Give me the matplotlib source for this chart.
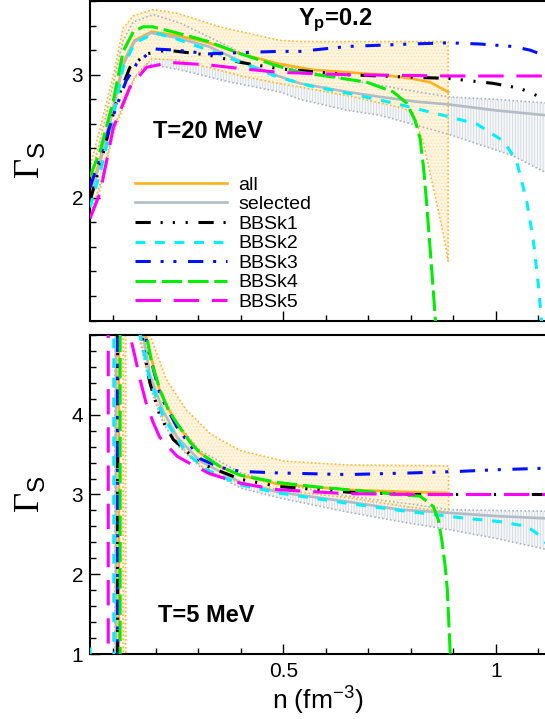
import matplotlib
matplotlib.use('Agg')
import matplotlib.pyplot as plt
import numpy as np
from matplotlib.ticker import MultipleLocator

plt.rcParams['font.family'] = 'Liberation Sans'
plt.rcParams['mathtext.fontset'] = 'custom'
plt.rcParams['mathtext.rm'] = 'Liberation Serif'
plt.rcParams['mathtext.sf'] = 'Liberation Sans'
plt.rcParams['mathtext.bf'] = 'Liberation Sans:bold'
plt.rcParams['hatch.linewidth'] = 0.6

# ---------------- T = 20 MeV ----------------
n_all20 = [0.045, 0.07, 0.10, 0.123, 0.15, 0.19, 0.25, 0.324, 0.40, 0.488, 0.57, 0.651, 0.728, 0.80, 0.845, 0.888]
g_all20 = [2.02, 2.33, 2.74, 3.10, 3.28, 3.35, 3.32, 3.26, 3.17, 3.09, 3.04, 3.02, 3.00, 2.97, 2.94, 2.86]

n_sel20 = [0.045, 0.07, 0.10, 0.123, 0.15, 0.189, 0.25, 0.324, 0.40, 0.488, 0.539, 0.651, 0.728, 0.815, 0.885, 1.0, 1.12]
g_sel20 = [2.00, 2.30, 2.72, 3.08, 3.27, 3.34, 3.30, 3.23, 3.11, 2.99, 2.93, 2.86, 2.82, 2.78, 2.76, 2.71, 2.67]

n_k1_20 = [0.045, 0.07, 0.108, 0.139, 0.178, 0.226, 0.324, 0.40, 0.488, 0.651, 0.80, 0.889, 0.994, 1.057, 1.104, 1.12]
g_k1_20 = [1.97, 2.28, 2.79, 3.06, 3.17, 3.20, 3.16, 3.10, 3.05, 3.00, 2.98, 2.97, 2.93, 2.89, 2.82, 2.79]

n_k2_20 = [0.045, 0.07, 0.10, 0.123, 0.15, 0.20, 0.25, 0.324, 0.40, 0.488, 0.563, 0.651, 0.759, 0.876, 0.955,
           1.018, 1.049, 1.073, 1.089, 1.10, 1.108, 1.115]
g_k2_20 = [1.92, 2.22, 2.66, 3.06, 3.26, 3.34, 3.29, 3.20, 3.10, 2.98, 2.91, 2.85, 2.77, 2.67, 2.60,
           2.46, 2.30, 1.97, 1.64, 1.30, 0.99, 0.60]

n_k3_20 = [0.045, 0.07, 0.104, 0.13, 0.155, 0.194, 0.25, 0.324, 0.40, 0.488, 0.539, 0.651, 0.80, 0.889, 0.963,
           1.041, 1.081, 1.112, 1.12]
g_k3_20 = [2.08, 2.35, 2.71, 2.95, 3.09, 3.21, 3.20, 3.17, 3.18, 3.19, 3.19, 3.23, 3.25, 3.26, 3.25,
           3.23, 3.20, 3.16, 3.14]

n_k4_20 = [0.045, 0.069, 0.10, 0.123, 0.147, 0.17, 0.193, 0.25, 0.324, 0.40, 0.488, 0.539, 0.60, 0.696, 0.759,
           0.79, 0.81, 0.822, 0.83, 0.837, 0.843, 0.849, 0.855, 0.86]
g_k4_20 = [2.17, 2.38, 2.79, 3.19, 3.35, 3.39, 3.39, 3.34, 3.27, 3.17, 3.07, 3.02, 2.99, 2.94, 2.86,
           2.77, 2.63, 2.48, 2.25, 1.97, 1.70, 1.43, 1.15, 0.90]

n_k5_20 = [0.045, 0.069, 0.10, 0.139, 0.178, 0.233, 0.324, 0.40, 0.488, 0.651, 0.889, 1.12]
g_k5_20 = [1.83, 2.04, 2.57, 2.90, 3.06, 3.10, 3.08, 3.05, 3.02, 3.00, 2.99, 2.99]

# bands: (n, Gamma) of lower and upper edges
n_allhi20 = [0.045, 0.07, 0.10, 0.123, 0.147, 0.194, 0.25, 0.296, 0.35, 0.414, 0.492, 0.539, 0.651, 0.80, 0.888]
g_allhi20 = [2.25, 2.58, 3.00, 3.38, 3.48, 3.53, 3.50, 3.45, 3.39, 3.34, 3.28, 3.27, 3.27, 3.27, 3.27]
n_alllo20 = [0.045, 0.07, 0.10, 0.15, 0.19, 0.25, 0.324, 0.40, 0.488, 0.539, 0.651, 0.728, 0.78, 0.806, 0.83,
             0.853, 0.877, 0.888]
g_alllo20 = [1.80, 2.08, 2.52, 2.97, 3.13, 3.12, 3.06, 2.99, 2.93, 2.90, 2.83, 2.77, 2.73, 2.69, 2.44,
             2.08, 1.70, 1.48]

n_selhi20 = [0.045, 0.07, 0.10, 0.123, 0.147, 0.194, 0.257, 0.30, 0.40, 0.488, 0.651, 0.80, 0.889, 1.0, 1.12]
g_selhi20 = [2.15, 2.48, 2.93, 3.28, 3.43, 3.49, 3.42, 3.35, 3.18, 3.08, 2.96, 2.87, 2.82, 2.80, 2.77]
n_sello20 = [0.045, 0.07, 0.10, 0.15, 0.178, 0.257, 0.375, 0.492, 0.539, 0.651, 0.728, 0.885, 1.041, 1.12]
g_sello20 = [1.85, 2.12, 2.56, 2.98, 3.09, 3.04, 2.94, 2.86, 2.80, 2.71, 2.67, 2.52, 2.34, 2.20]

# ---------------- T = 5 MeV ----------------
n_all5 = [0.1125, 0.1135, 0.14, 0.176, 0.21, 0.249, 0.304, 0.351, 0.40, 0.488, 0.651, 0.80, 0.889]
g_all5 = [-80, 80, 9.0, 5.0, 4.28, 3.88, 3.52, 3.35, 3.24, 3.13, 3.06, 3.03, 3.02]

n_sel5 = [0.1055, 0.1065, 0.13, 0.17, 0.186, 0.217, 0.25, 0.304, 0.40, 0.488, 0.651, 0.775, 0.889, 1.0, 1.12]
g_sel5 = [-80, 80, 9.0, 5.0, 4.50, 4.05, 3.72, 3.42, 3.15, 3.03, 2.91, 2.81, 2.77, 2.73, 2.70]

n_k1_5 = [0.1095, 0.1105, 0.135, 0.17, 0.186, 0.21, 0.241, 0.304, 0.40, 0.488, 0.651, 0.80, 0.889, 1.12]
g_k1_5 = [-80, 80, 7.5, 4.86, 4.40, 3.98, 3.69, 3.39, 3.19, 3.10, 3.03, 3.00, 3.00, 3.00]

n_k2_5 = [0.045, 0.05, 0.1005, 0.1015, 0.13, 0.163, 0.186, 0.217, 0.272, 0.32, 0.40, 0.488, 0.651, 0.775,
          0.932, 1.01, 1.073, 1.10, 1.12]
g_k2_5 = [1.08, 0.5, -80, 80, 8.0, 5.0, 4.44, 3.98, 3.52, 3.31, 3.12, 3.02, 2.89, 2.80,
          2.70, 2.66, 2.60, 2.50, 2.38]

n_k3_5 = [0.1095, 0.1105, 0.14, 0.178, 0.21, 0.249, 0.304, 0.351, 0.40, 0.488, 0.651, 0.80, 0.916, 1.0, 1.12]
g_k3_5 = [-80, 80, 8.0, 4.90, 4.25, 3.85, 3.45, 3.34, 3.29, 3.27, 3.25, 3.27, 3.29, 3.31, 3.33]

n_k4_5 = [0.1155, 0.1165, 0.145, 0.178, 0.19, 0.21, 0.23, 0.249, 0.28, 0.304, 0.351, 0.40, 0.488, 0.57,
          0.651, 0.733, 0.79, 0.822, 0.853, 0.865, 0.873, 0.881, 0.886, 0.893, 0.90]
g_k4_5 = [-80, 80, 8.0, 5.0, 4.65, 4.31, 4.05, 3.90, 3.66, 3.52, 3.35, 3.24, 3.15, 3.10,
          3.06, 3.02, 2.99, 2.98, 2.85, 2.68, 2.43, 2.10, 1.81, 1.00, 0.20]

n_k5_5 = [0.0875, 0.0885, 0.12, 0.139, 0.15, 0.163, 0.177, 0.194, 0.209, 0.225, 0.25, 0.273, 0.327, 0.40,
          0.488, 0.651, 0.815, 1.12]
g_k5_5 = [-80, 80, 8.0, 5.0, 4.75, 4.44, 4.15, 3.90, 3.72, 3.62, 3.48, 3.41, 3.26, 3.14,
          3.06, 3.01, 3.00, 3.00]

n_allhi5 = [0.1285, 0.1295, 0.15, 0.186, 0.225, 0.272, 0.327, 0.351, 0.40, 0.50, 0.651, 0.889]
g_allhi5 = [-80, 80, 9.0, 5.0, 4.44, 4.06, 3.77, 3.69, 3.55, 3.42, 3.37, 3.36]
n_alllo5 = [0.1225, 0.1235, 0.145, 0.163, 0.186, 0.217, 0.272, 0.32, 0.40, 0.488, 0.651, 0.80, 0.889]
g_alllo5 = [-80, 80, 8.0, 5.0, 4.40, 3.96, 3.52, 3.30, 3.14, 3.06, 2.96, 2.84, 2.78]

n_selhi5 = [0.1075, 0.1085, 0.135, 0.172, 0.21, 0.249, 0.304, 0.40, 0.488, 0.651, 0.80, 0.889, 1.0, 1.12]
g_selhi5 = [-80, 80, 8.0, 5.0, 4.30, 3.90, 3.55, 3.27, 3.14, 2.98, 2.88, 2.81, 2.80, 2.79]
n_sello5 = [0.1035, 0.1045, 0.13, 0.16, 0.186, 0.217, 0.25, 0.304, 0.40, 0.488, 0.651, 0.775, 0.889, 1.0, 1.12]
g_sello5 = [-80, 80, 8.0, 5.0, 4.35, 3.90, 3.62, 3.35, 3.08, 2.96, 2.78, 2.66, 2.56, 2.45, 2.31]

labels = ['all', 'selected', 'BBSk1', 'BBSk2', 'BBSk3', 'BBSk4', 'BBSk5']
colors = ['#ffb21e', '#b3bcc5', 'black', '#00f0ff', '#0010ff', '#00ee00', '#ff00ff']
dashes = [None, None,
          (5, 3.2, 0.7, 3.3, 0.7, 3.5, 0.7, 3.5),
          (3.2, 3.2),
          (5, 3.2, 1, 3.2, 1, 3.8),
          (6.7, 1.9),
          (8.3, 4.2)]


def band(ax, n_lo, g_lo, n_hi, g_hi, face, hatch, hcol, ecol):
    xs = np.r_[n_lo, n_hi[::-1], n_lo[0]]
    ys = np.r_[g_lo, g_hi[::-1], g_lo[0]]
    ax.fill(xs, ys, facecolor=face, hatch=hatch, edgecolor=hcol, lw=0, zorder=1)
    ax.plot(xs, ys, color=ecol, lw=1.2, ls=(0, (1, 1.4)), zorder=1.5)


def curves(ax, series):
    hs = []
    for (n, g), lab, c, d in zip(series, labels, colors, dashes):
        if d is None:
            h, = ax.plot(n, g, color=c, lw=1.9, label=lab, zorder=2)
        else:
            h, = ax.plot(n, g, color=c, lw=2.2, dashes=d, label=lab, zorder=3)
        hs.append(h)
    return hs


def setup(ax, ylo, yhi, yt):
    ax.set_xlim(0.045, 1.2)
    ax.set_ylim(ylo, yhi)
    ax.set_xticks([0.5, 1.0])
    ax.set_xticklabels(['0.5', '1'])
    ax.xaxis.set_minor_locator(MultipleLocator(0.1))
    ax.set_yticks(yt)
    ax.yaxis.set_minor_locator(MultipleLocator(0.2))
    ax.tick_params(which='both', direction='in', labelsize=15, width=1, pad=5)
    ax.tick_params(which='major', length=7)
    ax.tick_params(which='minor', length=4)
    for s in ax.spines.values():
        s.set_linewidth(1.5)
    ax.set_ylabel(r'$\Gamma_{\mathsf{S}}$', fontsize=25)
    ax.yaxis.set_label_coords(-0.088, 0.5)


fig = plt.figure(figsize=(5.45, 7.19), dpi=100)
ax1 = fig.add_axes([0.1651, 0.5542, 0.9004, 0.4444])
ax2 = fig.add_axes([0.1651, 0.0904, 0.9004, 0.4437])

# upper panel
band(ax1, n_sello20, g_sello20, n_selhi20, g_selhi20, '#f5f7f9', '||||||', '#d3d9e0', '#a9b4c0')
band(ax1, n_alllo20, g_alllo20, n_allhi20, g_allhi20, '#fff5e0', '.....', '#ffe2a6', '#ffb732')
hs = curves(ax1, [(n_all20, g_all20), (n_sel20, g_sel20), (n_k1_20, g_k1_20), (n_k2_20, g_k2_20),
                  (n_k3_20, g_k3_20), (n_k4_20, g_k4_20), (n_k5_20, g_k5_20)])
setup(ax1, 1.0, 3.6, [2, 3])
ax1.tick_params(labelbottom=False)
ax1.text(0.5, 0.925, r'$\mathbf{Y_p}$=0.2', transform=ax1.transAxes, fontsize=17,
         fontweight='bold', ha='center', va='baseline')
ax1.text(0.128, 0.571, 'T=20 MeV', transform=ax1.transAxes, fontsize=17,
         fontweight='bold', ha='left', va='baseline')
ax1.legend(hs, labels, loc='upper left', bbox_to_anchor=(0.092, 0.452), frameon=False,
           fontsize=14, handlelength=4.7, handletextpad=0.6, labelspacing=0.1,
           borderpad=0, borderaxespad=0)

# lower panel
band(ax2, n_sello5, g_sello5, n_selhi5, g_selhi5, '#f5f7f9', '||||||', '#d3d9e0', '#a9b4c0')
band(ax2, n_alllo5, g_alllo5, n_allhi5, g_allhi5, '#fff5e0', '.....', '#ffe2a6', '#ffb732')
curves(ax2, [(n_all5, g_all5), (n_sel5, g_sel5), (n_k1_5, g_k1_5), (n_k2_5, g_k2_5),
             (n_k3_5, g_k3_5), (n_k4_5, g_k4_5), (n_k5_5, g_k5_5)])
setup(ax2, 1.0, 5.0, [1, 2, 3, 4])
ax2.tick_params(axis='x', pad=6)
ax2.text(0.139, 0.100, 'T=5 MeV', transform=ax2.transAxes, fontsize=17,
         fontweight='bold', ha='left', va='baseline')
ax2.set_xlabel(r'n (fm$^{\mathsf{-3}}$)', fontsize=19)
ax2.xaxis.set_label_coords(0.465, -0.092)

fig.savefig('out.png', dpi=100)
